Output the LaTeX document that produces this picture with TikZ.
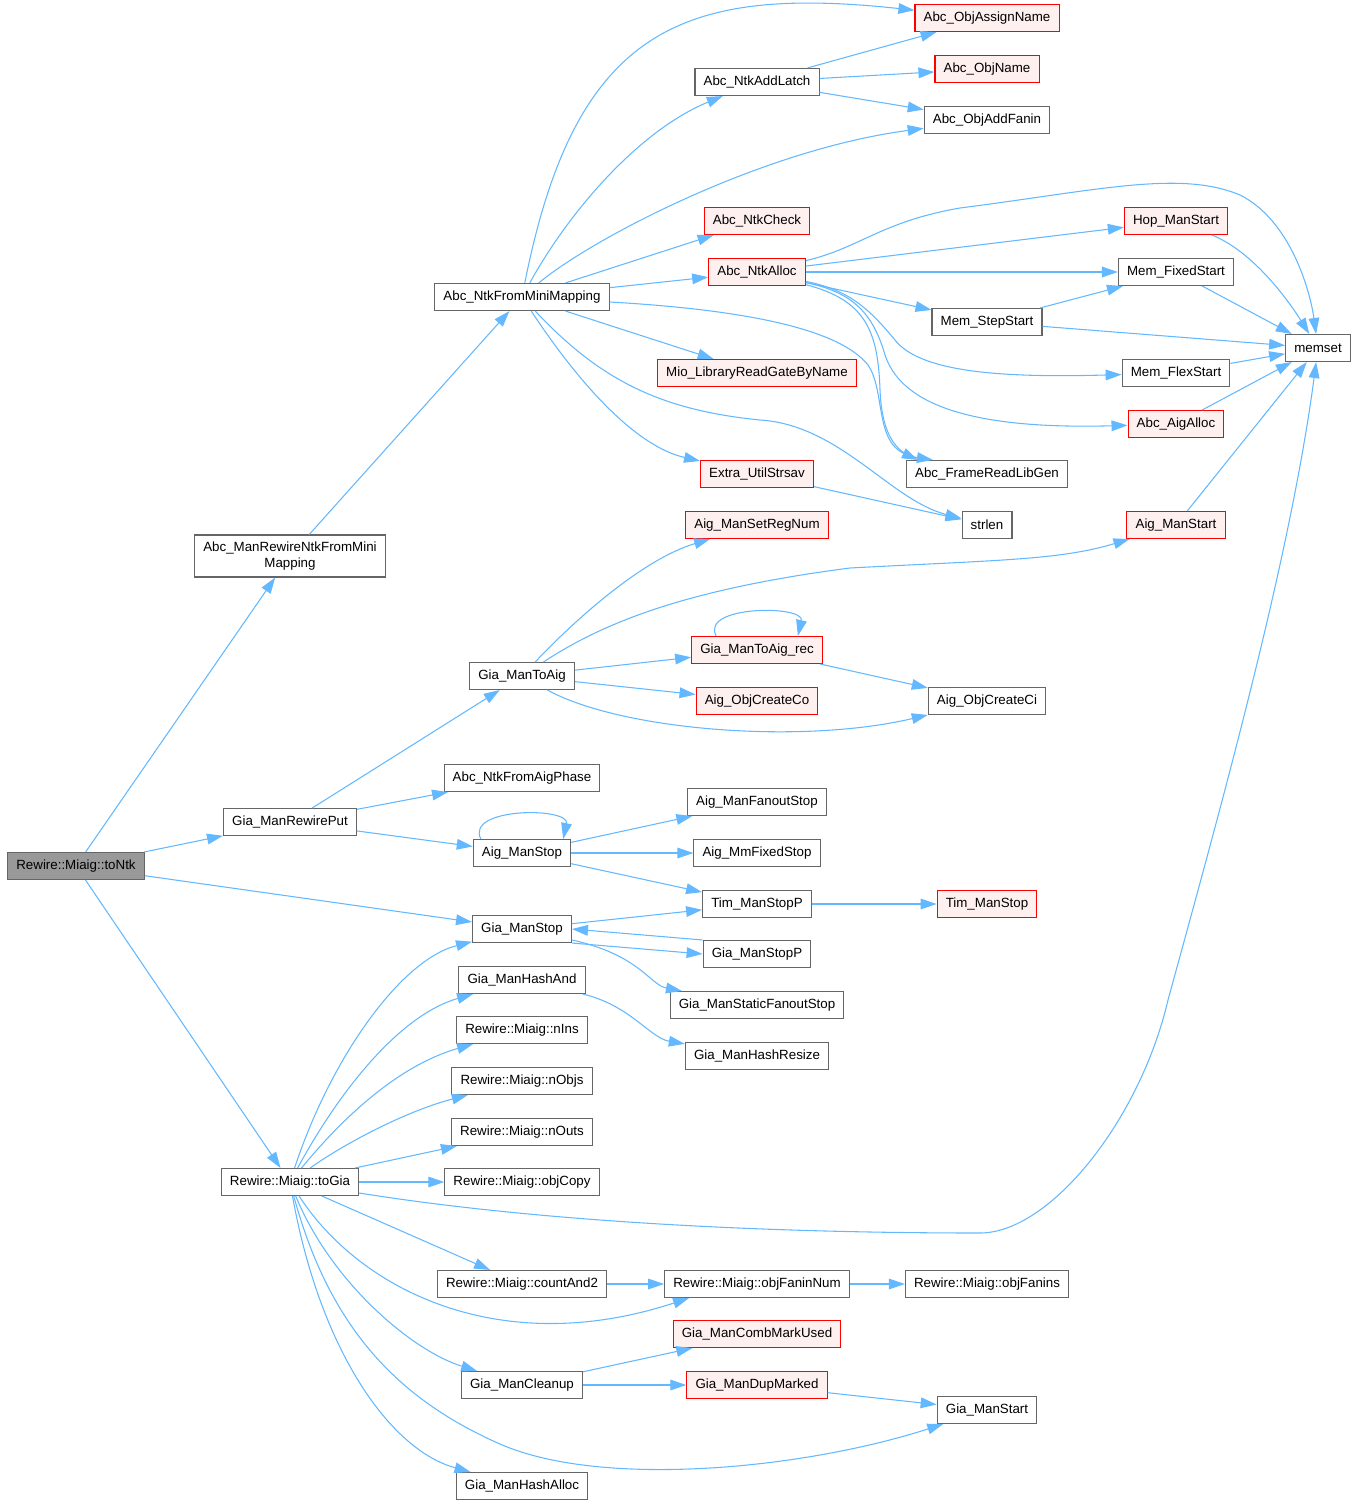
\documentclass[tikz,border=0pt]{standalone}
\usepackage{fontspec}
\setmainfont{Liberation Sans}
\usetikzlibrary{arrows.meta, positioning, calc}
\definecolor{edgeBlue}{HTML}{63B8FF}
\definecolor{boxGray}{HTML}{666666}
\definecolor{rootFill}{HTML}{999999}
\definecolor{extFill}{HTML}{FFF0F0}

\begin{document}
\begin{tikzpicture}[x=0.75pt, y=-0.75pt,
    fn/.style={draw=boxGray, line width=0.8pt, fill=white, font=\fontsize{10}{12}\selectfont, minimum height=20.25pt, inner xsep=6.5pt, inner ysep=2pt},
    fnext/.style={fn, draw=red, fill=extFill},
    fnroot/.style={fn, fill=rootFill},
    call/.style={-{Triangle[length=12pt, width=8pt]}, edgeBlue, line width=0.8pt}]
    \useasboundingbox (0,0) rectangle (1357,1505);

    \node[fnroot] (toNtk) at (76,866) {Rewire::Miaig::toNtk};
    \node[fn, align=center, minimum height=31.5pt] (rewireMap) at (290,556) {Abc\_ManRewireNtkFromMini\\Mapping};
    \node[fn] (rewirePut) at (290,822) {Gia\_ManRewirePut};
    \node[fn] (toGia) at (290,1182) {Rewire::Miaig::toGia};

    \node[fn] (ntkFromMini) at (522,297) {Abc\_NtkFromMiniMapping};
    \node[fn] (gmToAig) at (522,676) {Gia\_ManToAig};
    \node[fn] (ntkFromAig) at (522,778) {Abc\_NtkFromAigPhase};
    \node[fn] (aigStop) at (522,853) {Aig\_ManStop};
    \node[fn] (gmStop) at (522,929) {Gia\_ManStop};
    \node[fn] (gmHashAnd) at (522,980) {Gia\_ManHashAnd};
    \node[fn] (nIns) at (522,1030) {Rewire::Miaig::nIns};
    \node[fn] (nObjs) at (522,1081) {Rewire::Miaig::nObjs};
    \node[fn] (nOuts) at (522,1132) {Rewire::Miaig::nOuts};
    \node[fn] (objCopy) at (522,1182) {Rewire::Miaig::objCopy};
    \node[fn] (countAnd) at (522,1284) {Rewire::Miaig::countAnd2};
    \node[fn] (gmCleanup) at (522,1385) {Gia\_ManCleanup};
    \node[fn] (gmHashAlloc) at (522,1486) {Gia\_ManHashAlloc};

    \node[fn] (addLatch) at (757,82) {Abc\_NtkAddLatch};
    \node[fnext] (ntkCheck) at (757,221) {Abc\_NtkCheck};
    \node[fnext] (ntkAlloc) at (757,272) {Abc\_NtkAlloc};
    \node[fnext] (mioRead) at (757,373) {Mio\_LibraryReadGateByName};
    \node[fnext] (strsav) at (757,474) {Extra\_UtilStrsav};
    \node[fnext] (setRegNum) at (757,525) {Aig\_ManSetRegNum};
    \node[fnext] (toAigRec) at (757,650) {Gia\_ManToAig\_rec};
    \node[fnext] (createCo) at (757,701) {Aig\_ObjCreateCo};
    \node[fn] (fanoutStop) at (757,802) {Aig\_ManFanoutStop};
    \node[fn] (mmFixedStop) at (757,853) {Aig\_MmFixedStop};
    \node[fn] (timStopP) at (757,904) {Tim\_ManStopP};
    \node[fn] (gmStopP) at (757,954) {Gia\_ManStopP};
    \node[fn] (staticFanout) at (757,1005) {Gia\_ManStaticFanoutStop};
    \node[fn] (hashResize) at (757,1056) {Gia\_ManHashResize};
    \node[fn] (faninNum) at (757,1284) {Rewire::Miaig::objFaninNum};
    \node[fnext] (combMark) at (757,1334) {Gia\_ManCombMarkUsed};
    \node[fnext] (dupMarked) at (757,1385) {Gia\_ManDupMarked};

    \node[fnext] (assignName) at (987,18) {Abc\_ObjAssignName};
    \node[fnext] (objName) at (987,69) {Abc\_ObjName};
    \node[fn] (addFanin) at (987,120) {Abc\_ObjAddFanin};
    \node[fn] (stepStart) at (987,322) {Mem\_StepStart};
    \node[fn] (libGen) at (987,474) {Abc\_FrameReadLibGen};
    \node[fn] (strlen) at (987,525) {strlen};
    \node[fn] (createCi) at (987,701) {Aig\_ObjCreateCi};
    \node[fnext] (timStop) at (987,904) {Tim\_ManStop};
    \node[fn] (objFanins) at (987,1284) {Rewire::Miaig::objFanins};
    \node[fn] (gmStart) at (987,1410) {Gia\_ManStart};

    \node[fnext] (hopStart) at (1176,221) {Hop\_ManStart};
    \node[fn] (fixedStart) at (1176,272) {Mem\_FixedStart};
    \node[fn] (flexStart) at (1176,373) {Mem\_FlexStart};
    \node[fnext] (aigAlloc) at (1176,424) {Abc\_AigAlloc};
    \node[fnext] (aigStart) at (1176,525) {Aig\_ManStart};
    \node[fn] (memset) at (1318,348) {memset};

    \draw[call] (toNtk) -- (rewireMap);
    \draw[call] (toNtk) -- (rewirePut);
    \draw[call] (toNtk) -- (gmStop);
    \draw[call] (toNtk) -- (toGia);
    \draw[call] (rewireMap) -- (ntkFromMini);
    \draw[call] (rewirePut) -- (gmToAig);
    \draw[call] (rewirePut) -- (ntkFromAig);
    \draw[call] (rewirePut) -- (aigStop);

    \draw[call] (ntkFromMini) .. controls (575,30) and (680,-15) .. (assignName);
    \draw[call] (ntkFromMini) .. controls (570,210) and (640,130) .. (addLatch);
    \draw[call] (ntkFromMini) .. controls (590,240) and (760,150) .. (addFanin);
    \draw[call] (ntkFromMini) -- (ntkCheck);
    \draw[call] (ntkFromMini) -- (ntkAlloc);
    \draw[call] (ntkFromMini) -- (mioRead);
    \draw[call] (ntkFromMini) .. controls (570,370) and (630,445) .. (strsav);
    \draw[call] (ntkFromMini) .. controls (750,310) and (840,330) .. (868,365) .. controls (885,390) and (875,440) .. ($(libGen.north west)+(12,0)$);
    \draw[call] (ntkFromMini) .. controls (600,380) and (660,410) .. (760,420) .. controls (840,425) and (890,500) .. (strlen);

    \draw[call] (addLatch) -- (assignName);
    \draw[call] (addLatch) -- (objName);
    \draw[call] (addLatch) -- (addFanin);

    \draw[call] (ntkAlloc) .. controls (860,248) and (880,222) .. (960,208) .. controls (1100,190) and (1180,170) .. (1240,195) .. controls (1290,220) and (1310,290) .. (memset);
    \draw[call] (ntkAlloc) -- (hopStart);
    \draw[call] (ntkAlloc) -- (fixedStart);
    \draw[call] (ntkAlloc) -- (stepStart);
    \draw[call] (ntkAlloc) .. controls (850,290) and (870,310) .. (895,340) .. controls (920,372) and (1000,378) .. (flexStart);
    \draw[call] (ntkAlloc) .. controls (850,292) and (872,310) .. (885,355) .. controls (900,400) and (960,430) .. (aigAlloc);
    \draw[call] (ntkAlloc) .. controls (865,300) and (878,330) .. (880,390) .. controls (882,440) and (900,455) .. ($(libGen.north west)+(27,0)$);

    \draw[call] (hopStart) .. controls (1250,250) and (1285,295) .. (memset);
    \draw[call] (fixedStart) -- (memset);
    \draw[call] (stepStart) -- (fixedStart);
    \draw[call] (stepStart) -- (memset);
    \draw[call] (flexStart) -- (memset);
    \draw[call] (aigAlloc) -- (memset);
    \draw[call] (aigStart) -- (memset);
    \draw[call] (strsav) -- (strlen);

    \draw[call] (gmToAig) .. controls (570,625) and (640,560) .. (setRegNum);
    \draw[call] (gmToAig) .. controls (600,625) and (680,590) .. (850,568) .. controls (1000,560) and (1060,560) .. (aigStart);
    \draw[call] (gmToAig) -- (toAigRec);
    \draw[call] (gmToAig) -- (createCo);
    \draw[call] (gmToAig) .. controls (620,730) and (800,745) .. (createCi);
    \draw[call] ($(toAigRec.north west)+(25,0)$) .. controls (700,605) and (805,605) .. ($(toAigRec.north east)+(-25,0)$);
    \draw[call] (toAigRec) -- (createCi);

    \draw[call] ($(aigStop.north west)+(8,0)$) .. controls (465,807) and (570,807) .. ($(aigStop.north east)+(-8,0)$);
    \draw[call] (aigStop) -- (fanoutStop);
    \draw[call] (aigStop) -- (mmFixedStop);
    \draw[call] (aigStop) -- (timStopP);
    \draw[call] (timStopP) -- (timStop);

    \draw[call] (gmStop) -- (timStopP);
    \draw[call] (gmStop.south east) -- (gmStopP.west);
    \draw[call] (gmStopP.north west) -- (gmStop.east);
    \draw[call] (gmStop) .. controls (640,955) and (650,985) .. (staticFanout);
    \draw[call] (gmHashAnd) .. controls (630,1005) and (650,1038) .. (hashResize);

    \draw[call] (toGia) .. controls (330,1060) and (400,960) .. (gmStop);
    \draw[call] (toGia) .. controls (340,1090) and (400,1015) .. (gmHashAnd);
    \draw[call] (toGia) .. controls (345,1115) and (400,1065) .. (nIns);
    \draw[call] (toGia) .. controls (350,1140) and (410,1110) .. (nObjs);
    \draw[call] (toGia) -- (nOuts);
    \draw[call] (toGia) -- (objCopy);
    \draw[call] (toGia) .. controls (560,1225) and (800,1233) .. (980,1233) .. controls (1050,1233) and (1140,1120) .. (1168,1000) .. controls (1220,810) and (1290,560) .. (memset);
    \draw[call] (toGia) -- (countAnd);
    \draw[call] (toGia) .. controls (360,1290) and (500,1360) .. ($(faninNum.south west)+(25,0)$);
    \draw[call] (toGia) .. controls (330,1280) and (410,1350) .. (gmCleanup);
    \draw[call] (toGia) .. controls (330,1330) and (400,1400) .. (500,1444) .. controls (600,1488) and (800,1470) .. (gmStart);
    \draw[call] (toGia) .. controls (320,1350) and (390,1450) .. (gmHashAlloc);

    \draw[call] (countAnd) -- (faninNum);
    \draw[call] (faninNum) -- (objFanins);
    \draw[call] (gmCleanup) -- (combMark);
    \draw[call] (gmCleanup) -- (dupMarked);
    \draw[call] (dupMarked) -- (gmStart);
\end{tikzpicture}
\end{document}
